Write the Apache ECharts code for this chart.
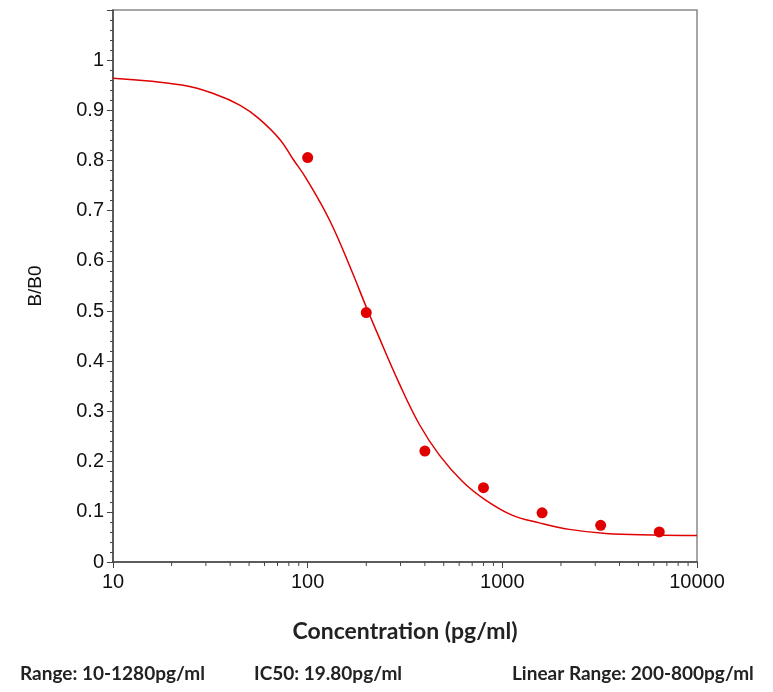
<!DOCTYPE html>
<html>
<head>
<meta charset="utf-8">
<script src="https://cdn.jsdelivr.net/npm/echarts@6/dist/echarts.min.js"></script>
<style>
  html, body { margin: 0; padding: 0; background: #fff; }
  #chart { width: 773px; height: 692px; }
</style>
</head>
<body>
<div id="chart"></div>
<script>
// measured standard points
const conc = [100, 200, 400, 800, 1600, 3200, 6400];
const ratio = [0.806, 0.497, 0.221, 0.148, 0.098, 0.073, 0.060];

// fitted curve
const curveX = [10, 23, 33, 45, 56, 72, 84, 98, 130, 168, 200, 225, 296, 375, 475, 626, 824, 1129, 1549, 2207, 3404, 5906, 10000];
const curveY = [0.964, 0.950, 0.933, 0.910, 0.884, 0.842, 0.803, 0.765, 0.680, 0.581, 0.508, 0.461, 0.355, 0.274, 0.213, 0.160, 0.123, 0.093, 0.078, 0.065, 0.057, 0.054, 0.053];

// minor ticks of the log axis
const minorX = [20, 30, 40, 50, 60, 70, 80, 90, 200, 300, 400, 500, 600, 700, 800, 900, 2000, 3000, 4000, 5000, 6000, 7000, 8000, 9000];

const footer = ['Range: 10-1280pg/ml', 'IC50: 19.80pg/ml', 'Linear Range: 200-800pg/ml'];

const red = '#e00000';
const axisColor = '#444';

const chart = echarts.init(document.getElementById('chart'));

const option = {
    backgroundColor: '#fff',
    animation: false,
    grid: {
        left: 113, right: 76, top: 10, bottom: 130,
        show: true, borderColor: '#888', borderWidth: 1.5
    },
    xAxis: {
        type: 'log',
        logBase: 10,
        min: 10,
        max: 10000,
        name: 'Concentration (pg/ml)',
        nameLocation: 'middle',
        nameGap: 58,
        nameTextStyle: { fontFamily: 'Lato', fontWeight: 'bold', fontSize: 23, color: '#222' },
        axisLine: { lineStyle: { color: axisColor, width: 1.5 } },
        axisTick: { length: 6, lineStyle: { color: axisColor } },
        axisLabel: {
            fontFamily: 'Liberation Sans', fontSize: 20, color: '#111', margin: 10,
            formatter: v => String(Math.round(v))
        },
        splitLine: { show: false }
    },
    yAxis: {
        type: 'value',
        min: 0,
        max: 1.1,
        interval: 0.1,
        name: 'B/B0',
        nameLocation: 'middle',
        nameGap: 68,
        nameTextStyle: { fontFamily: 'Liberation Sans', fontSize: 19, color: '#111' },
        axisLine: { show: true, lineStyle: { color: axisColor, width: 1.5 } },
        axisTick: { show: true, length: 6, lineStyle: { color: axisColor } },
        minorTick: { show: true, splitNumber: 5, length: 3, lineStyle: { color: axisColor } },
        axisLabel: {
            fontFamily: 'Liberation Sans', fontSize: 20, color: '#111', margin: 9,
            formatter: v => (v > 1.05 ? '' : String(Math.round(v * 10) / 10))
        },
        splitLine: { show: false }
    },
    series: [
        {
            type: 'line',
            data: curveX.map((x, i) => [x, curveY[i]]),
            smooth: 0.4,
            showSymbol: false,
            lineStyle: { color: red, width: 1.5 },
            z: 3
        },
        {
            type: 'scatter',
            data: conc.map((x, i) => [x, ratio[i]]),
            symbolSize: 11,
            itemStyle: { color: red, opacity: 1 },
            z: 4
        },
        {
            type: 'scatter',
            data: minorX.map(x => [x, 0]),
            symbol: 'rect',
            symbolSize: [1, 4],
            symbolOffset: [0, 2],
            clip: false,
            silent: true,
            itemStyle: { color: axisColor, opacity: 1 },
            z: 2
        }
    ],
    graphic: [
        { type: 'text', left: 20, top: 664, style: { text: footer[0], font: 'bold 19px Lato', fill: '#222' } },
        { type: 'text', left: 254, top: 664, style: { text: footer[1], font: 'bold 19px Lato', fill: '#222' } },
        { type: 'text', left: 512, top: 664, style: { text: footer[2], font: 'bold 19px Lato', fill: '#222' } }
    ]
};

chart.setOption(option);
</script>
</body>
</html>
